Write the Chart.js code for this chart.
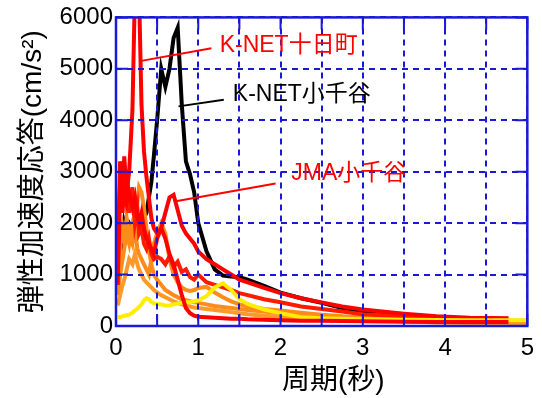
<!DOCTYPE html>
<html>
<head>
<meta charset="utf-8">
<script src="https://cdn.jsdelivr.net/npm/chart.js@4/dist/chart.umd.min.js"></script>
<style>html,body{margin:0;padding:0;background:#fff}</style>
</head>
<body>
<canvas id="c" width="542" height="398"></canvas>
<script>
// period grid (s) shared by all spectra
const periods = [0.02,0.05,0.08,0.1,0.13,0.16,0.2,0.23,0.26,0.28,0.31,0.34,0.37,0.4,0.43,0.46,0.5,0.55,0.6,0.65,0.7,0.75,0.8,0.85,0.9,0.95,1.0,1.1,1.2,1.3,1.4,1.5,1.6,1.8,2.0,2.25,2.5,2.75,3.0,3.5,3.9,4.3,4.77,5.0];

// response (cm/s2)
const knetOjiya = [1200,1800,1600,2000,1800,2000,1900,2100,2000,2100,2000,2100,2200,2500,2800,3300,4000,5000,4650,5000,5600,5800,4300,3200,2950,2600,2000,1450,1100,980,960,950,900,780,650,540,450,350,270,210,170,null,null,null];
const knetTokamachi = [1000,3200,2300,3300,2600,3000,4200,6500,6500,6500,4300,3400,2900,2500,2100,1900,1800,1900,1700,1400,1200,900,600,350,250,200,180,170,160,150,140,140,130,120,110,100,100,95,90,85,80,80,80,null];
const jmaOjiya = [800,2600,2200,2900,2400,2600,2300,2500,2100,2000,2200,1900,1700,1600,1500,1400,1700,1900,2200,2500,2550,2250,1950,1800,1700,1600,1450,1300,1200,1100,1000,900,850,740,640,540,460,380,320,240,190,160,150,null];
const redOther = [1500,2800,3200,2500,3000,2200,2700,2000,2300,1800,1900,1600,1500,1700,1400,1300,1350,1300,1200,1350,1150,1250,1050,1100,950,900,1000,850,800,750,700,640,600,520,460,380,330,280,230,190,160,150,140,null];
const orangeA = [600,1000,1300,1500,1800,1600,2000,2200,2400,2700,2600,2300,1900,1500,1200,1000,900,800,700,650,600,560,520,500,480,460,450,420,390,370,350,330,310,280,250,220,200,180,160,140,120,110,100,100];
const orangeB = [900,1500,1900,1700,2100,1800,1600,1900,1500,1400,1300,1200,1100,1000,1300,1600,1800,2000,1800,1300,1000,850,750,700,680,700,740,760,650,560,480,420,380,330,300,260,220,190,170,140,120,100,90,80];
const orangeC = [400,600,800,900,1100,1300,1200,1400,1200,1100,1000,900,850,800,750,700,650,600,560,520,480,450,420,400,380,360,350,330,310,290,270,250,230,200,180,160,140,120,110,90,70,60,50,50];
const yellowA = [180,170,190,200,210,220,260,300,340,370,420,500,540,520,470,440,430,420,400,400,420,440,450,460,460,480,500,580,750,830,700,520,430,320,250,170,150,140,130,120,115,110,110,110];

const xTicks = [0,0.5,1,1.5,2,2.5,3,3.5,4,4.5,5];
const yTicks = [0,1000,2000,3000,4000,5000,6000];

// labels with leader lines, in data units
const notes = [
  { text: 'K-NET十日町', color: '#ff0000', at: [1.26, 5450], from: [0.29, 5150], to: [1.16, 5400] },
  { text: 'K-NET小千谷', color: '#000000', at: [1.42, 4500], from: [0.76, 4270], to: [1.31, 4400] },
  { text: 'JMA小千谷', color: '#ff0000', at: [2.13, 2960], from: [0.71, 2420], to: [1.94, 2770] }
];

const BLUE = '#1a1ad6';
const FONT = "'Liberation Sans', 'Noto Sans CJK JP', sans-serif";

function series(vals, color, w) {
  return {
    data: periods.map((p, i) => ({ x: p, y: vals[i] })),
    borderColor: color, borderWidth: w, pointRadius: 0, tension: 0, fill: false, spanGaps: false
  };
}

const frame = {
  id: 'frame',
  afterDraw(chart) {
    const ctx = chart.ctx, a = chart.chartArea;
    const sx = chart.scales.x, sy = chart.scales.y;
    ctx.save();
    ctx.strokeStyle = BLUE;
    ctx.lineWidth = 2;
    ctx.beginPath();
    xTicks.forEach(v => {
      const px = sx.getPixelForValue(v);
      ctx.moveTo(px, a.bottom); ctx.lineTo(px, a.bottom - 12);
      ctx.moveTo(px, a.top); ctx.lineTo(px, a.top + 12);
    });
    yTicks.forEach(v => {
      const py = sy.getPixelForValue(v);
      ctx.moveTo(a.left, py); ctx.lineTo(a.left + 12, py);
      ctx.moveTo(a.right, py); ctx.lineTo(a.right - 12, py);
    });
    ctx.stroke();
    ctx.lineWidth = 2.5;
    ctx.strokeRect(a.left, a.top, a.right - a.left, a.bottom - a.top);

    notes.forEach(n => {
      ctx.strokeStyle = n.color;
      ctx.lineWidth = 2;
      ctx.beginPath();
      ctx.moveTo(sx.getPixelForValue(n.from[0]), sy.getPixelForValue(n.from[1]));
      ctx.lineTo(sx.getPixelForValue(n.to[0]), sy.getPixelForValue(n.to[1]));
      ctx.stroke();
      ctx.fillStyle = n.color;
      ctx.font = '23px ' + FONT;
      ctx.textBaseline = 'middle';
      ctx.textAlign = 'left';
      ctx.fillText(n.text, sx.getPixelForValue(n.at[0]), sy.getPixelForValue(n.at[1]));
    });
    ctx.restore();
  }
};

// first dataset is drawn on top, so black goes last (underneath)
new Chart(document.getElementById('c'), {
  type: 'line',
  data: {
    datasets: [
      series(knetTokamachi, '#ff0000', 4),
      series(yellowA, '#ffee00', 4),
      series(jmaOjiya, '#ff0000', 4),
      series(redOther, '#ff1a00', 4),
      series(orangeB, '#ff8c1a', 4),
      series(orangeA, '#ff8c1a', 4),
      series(orangeC, '#ff9a2a', 4),
      series(knetOjiya, '#000000', 4)
    ]
  },
  options: {
    responsive: false, animation: false,
    layout: { padding: { left: 0, right: 13, top: 14, bottom: 0 } },
    plugins: { legend: { display: false }, tooltip: { enabled: false } },
    scales: {
      x: {
        type: 'linear', min: 0, max: 5,
        afterFit: s => { s.height = 72; },
        afterBuildTicks: s => { s.ticks = xTicks.map(v => ({ value: v })); },
        ticks: { color: '#000', font: { size: 24, family: FONT }, padding: 8, autoSkip: false, maxRotation: 0,
                 callback: v => Number.isInteger(v) ? String(v) : '' },
        grid: { color: BLUE, lineWidth: 2, drawTicks: false, z: 1 },
        border: { display: false, dash: [6, 5] },
        title: { display: true, text: '   周期(秒)', color: '#000', font: { size: 28, family: FONT }, padding: { top: 3, bottom: 0 } }
      },
      y: {
        min: 0, max: 6000,
        afterFit: s => { s.width = 116; },
        afterBuildTicks: s => { s.ticks = yTicks.map(v => ({ value: v })); },
        ticks: { color: '#000', font: { size: 24, family: FONT }, padding: 3, callback: v => String(v) },
        grid: { color: BLUE, lineWidth: 2, drawTicks: false, z: 1 },
        border: { display: false, dash: [6, 5] },
        title: { display: true, text: '弾性加速度応答(cm/s²)', color: '#000', font: { size: 28, family: FONT }, padding: { top: 16, bottom: 0 } }
      }
    }
  },
  plugins: [frame]
});
</script>
</body>
</html>
